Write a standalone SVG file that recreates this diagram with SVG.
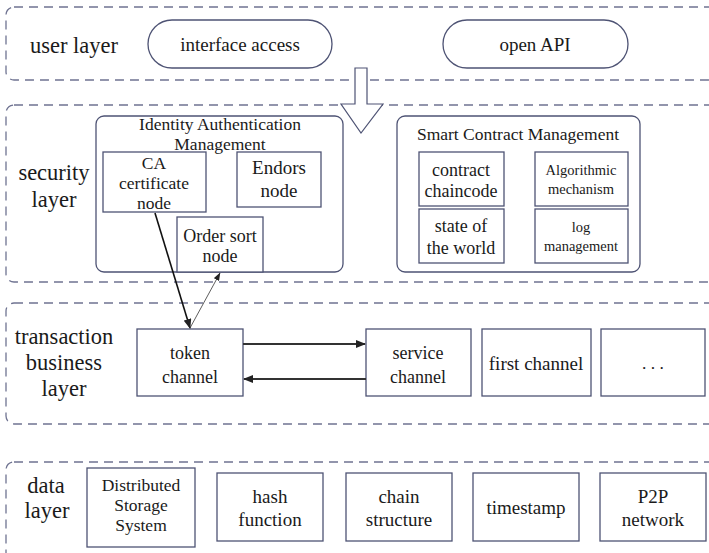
<svg xmlns="http://www.w3.org/2000/svg" width="709" height="553" viewBox="0 0 709 553" font-family="'Liberation Serif', 'Times New Roman', serif">
<style>
.layer{fill:none;stroke:#6f7391;stroke-width:1.3;stroke-dasharray:9 6}
.box{fill:#fff;stroke:#4e5374;stroke-width:1.3}
.grp{fill:#fff;stroke:#4e5374;stroke-width:1.3}
text{font-family:'Liberation Serif','Times New Roman',serif;fill:#1a1a1a;text-anchor:middle}
.lt{font-size:22.5px}
.t19{font-size:19px}
.t18{font-size:18px}
.t17{font-size:17.5px}
.t14{font-size:14.5px}
</style>
<defs>
<marker id="ah" markerWidth="10" markerHeight="8" refX="9" refY="4" orient="auto" markerUnits="userSpaceOnUse">
<path d="M0,0 L10,4 L0,8 Z" fill="#222"/>
</marker>
<marker id="ahs" markerWidth="8" markerHeight="6" refX="7.5" refY="3" orient="auto" markerUnits="userSpaceOnUse">
<path d="M0,0 L8,3 L0,6 Z" fill="#222"/>
</marker>
</defs>
<rect fill="#fff" width="709" height="553"/>

<g id="user-layer">
<rect class="layer" x="6" y="7" width="720" height="73" rx="8"/>
<text class="lt" x="74" y="53">user layer</text>
</g>
<g id="security-layer">
<rect class="layer" x="6" y="105" width="720" height="177" rx="8"/>
<text class="lt" x="54" y="180">security</text>
<text class="lt" x="54" y="207">layer</text>
</g>
<g id="transaction-layer">
<rect class="layer" x="6" y="303" width="720" height="121" rx="8"/>
<text class="lt" x="64" y="344">transaction</text>
<text class="lt" x="64" y="370">business</text>
<text class="lt" x="64" y="396">layer</text>
</g>
<g id="data-layer">
<rect class="layer" x="6" y="462" width="720" height="110" rx="8"/>
<text class="lt" x="46" y="493">data</text>
<text class="lt" x="47" y="518">layer</text>
</g>

<g id="interface-access">
<rect class="box" x="148" y="20" width="184" height="48" rx="24"/>
<text class="t19" x="240" y="51">interface access</text>
</g>
<g id="open-api">
<rect class="box" x="443" y="20" width="185" height="48" rx="24"/>
<text class="t19" x="535" y="51">open API</text>
</g>

<g id="down-arrow">
<polygon points="355,68 367,68 367,104 383,104 361,133 341,104 355,104" fill="#fff" stroke="#4e5374" stroke-width="1.2"/>
</g>

<g id="identity-auth">
<rect class="grp" x="96" y="116" width="247" height="156" rx="8"/>
<text class="t17" x="220" y="130">Identity Authentication</text>
<text class="t17" x="220" y="150">Management</text>
</g>
<g id="ca-node">
<rect class="box" x="103" y="152" width="103" height="60"/>
<text class="t17" x="154" y="169">CA</text>
<text class="t17" x="154" y="189">certificate</text>
<text class="t17" x="154" y="209">node</text>
</g>
<g id="endors-node">
<rect class="box" x="237" y="152" width="84" height="55"/>
<text class="t19" x="279" y="174">Endors</text>
<text class="t19" x="279" y="197">node</text>
</g>
<g id="order-node">
<rect class="box" x="177" y="217" width="86" height="55"/>
<text class="t18" x="220" y="242">Order sort</text>
<text class="t18" x="220" y="262">node</text>
</g>

<g id="smart-contract">
<rect class="grp" x="397" y="116" width="243" height="156" rx="8"/>
<text class="t17" x="518" y="140">Smart Contract Management</text>
</g>
<g id="contract-chaincode">
<rect class="box" x="419" y="152" width="85" height="54"/>
<text class="t18" x="461" y="176">contract</text>
<text class="t18" x="461" y="197">chaincode</text>
</g>
<g id="algorithmic">
<rect class="box" x="535" y="152" width="93" height="54"/>
<text class="t14" x="581" y="175">Algorithmic</text>
<text class="t14" x="581" y="194">mechanism</text>
</g>
<g id="state-world">
<rect class="box" x="419" y="209" width="85" height="54"/>
<text class="t18" x="461" y="232">state of</text>
<text class="t18" x="461" y="254">the world</text>
</g>
<g id="log-management">
<rect class="box" x="535" y="209" width="93" height="54"/>
<text class="t14" x="581" y="232">log</text>
<text class="t14" x="581" y="251">management</text>
</g>

<g id="token-channel">
<rect class="box" x="137" y="329" width="106" height="67"/>
<text class="t18" x="190" y="359">token</text>
<text class="t18" x="190" y="383">channel</text>
</g>
<g id="service-channel">
<rect class="box" x="366" y="329" width="105" height="67"/>
<text class="t18" x="418" y="359">service</text>
<text class="t18" x="418" y="383">channel</text>
</g>
<g id="first-channel">
<rect class="box" x="482" y="329" width="109" height="67"/>
<text class="t19" x="536" y="370">first channel</text>
</g>
<g id="more-channel">
<rect class="box" x="601" y="329" width="104" height="67"/>
<text class="t17" x="653" y="369">. . .</text>
</g>

<g id="distributed-storage">
<rect class="box" x="87" y="468" width="108" height="79"/>
<text class="t17" x="141" y="491">Distributed</text>
<text class="t17" x="141" y="511">Storage</text>
<text class="t17" x="141" y="531">System</text>
</g>
<g id="hash-function">
<rect class="box" x="217" y="473" width="106" height="68"/>
<text class="t19" x="270" y="503">hash</text>
<text class="t19" x="270" y="526">function</text>
</g>
<g id="chain-structure">
<rect class="box" x="346" y="473" width="106" height="68"/>
<text class="t19" x="399" y="503">chain</text>
<text class="t19" x="399" y="526">structure</text>
</g>
<g id="timestamp">
<rect class="box" x="473" y="473" width="106" height="68"/>
<text class="t19" x="526" y="514">timestamp</text>
</g>
<g id="p2p-network">
<rect class="box" x="600" y="473" width="106" height="68"/>
<text class="t19" x="653" y="503">P2P</text>
<text class="t19" x="653" y="526">network</text>
</g>

<g id="connectors" fill="none">
<line x1="155" y1="213" x2="190" y2="328" stroke="#111" stroke-width="1.6" marker-end="url(#ah)"/>
<line x1="190" y1="328" x2="220" y2="273" stroke="#333" stroke-width="0.8" marker-end="url(#ahs)"/>
<line x1="243" y1="344" x2="365" y2="344" stroke="#333" stroke-width="2" marker-end="url(#ah)"/>
<line x1="366" y1="379" x2="244" y2="379" stroke="#333" stroke-width="2" marker-end="url(#ah)"/>
</g>
</svg>
